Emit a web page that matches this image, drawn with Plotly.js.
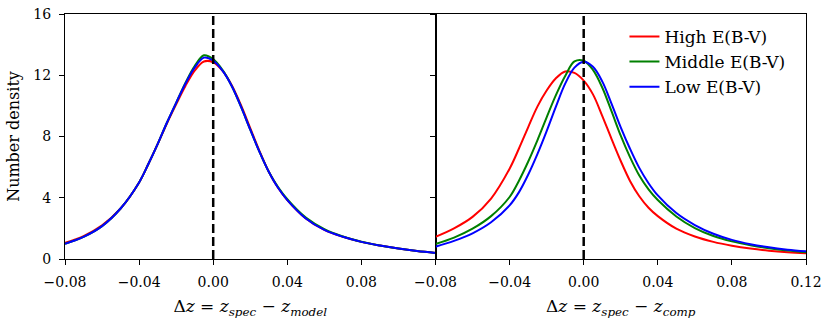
<!DOCTYPE html>
<html>
<head>
<meta charset="utf-8">
<script src="https://cdn.plot.ly/plotly-3.0.1.min.js"></script>
<style>
  html, body { margin: 0; padding: 0; background: #fff; }
  #plot { width: 830px; height: 323px; }
</style>
</head>
<body>
<div id="plot"></div>
<script>
// shared grid of delta z values for both panels
const dz = [-0.08, -0.07, -0.06, -0.05, -0.04, -0.035, -0.03, -0.025, -0.02, -0.015, -0.01, -0.005, 0,
            0.005, 0.01, 0.015, 0.02, 0.025, 0.03, 0.035, 0.04, 0.05, 0.06, 0.07, 0.08, 0.09, 0.10, 0.11, 0.12];

// left panel: z_spec - z_model
const modelHigh = [1.05, 1.5, 2.2, 3.3, 5.0, 6.2, 7.5, 8.85, 10.1, 11.3, 12.3, 12.9, 12.85,
                   12.3, 11.35, 10.05, 8.55, 7.05, 5.7, 4.65, 3.85, 2.65, 1.9, 1.45, 1.12, 0.88, 0.68, 0.52, 0.4];
const modelMid  = [1.0, 1.45, 2.15, 3.3, 5.0, 6.2, 7.5, 8.9, 10.2, 11.5, 12.6, 13.3, 13.05,
                   12.35, 11.3, 9.95, 8.45, 7.0, 5.7, 4.7, 3.9, 2.7, 1.95, 1.47, 1.13, 0.88, 0.68, 0.52, 0.4];
const modelLow  = [1.0, 1.45, 2.15, 3.3, 5.0, 6.2, 7.5, 8.9, 10.2, 11.45, 12.5, 13.15, 12.95,
                   12.3, 11.3, 9.95, 8.45, 7.0, 5.7, 4.65, 3.85, 2.65, 1.9, 1.45, 1.12, 0.88, 0.68, 0.52, 0.4];

// right panel: z_spec - z_comp
const compHigh = [1.45, 2.0, 2.75, 3.95, 5.9, 7.2, 8.6, 9.95, 11.0, 11.8, 12.25, 12.15, 11.65,
                  10.75, 9.35, 7.85, 6.4, 5.1, 4.1, 3.35, 2.8, 1.98, 1.47, 1.12, 0.87, 0.68, 0.54, 0.44, 0.37];
const compMid  = [0.98, 1.4, 1.98, 2.8, 4.05, 5.1, 6.35, 7.75, 9.25, 10.7, 11.95, 12.9, 12.95,
                  12.35, 11.2, 9.65, 8.05, 6.65, 5.45, 4.55, 3.85, 2.78, 2.02, 1.5, 1.15, 0.9, 0.7, 0.55, 0.44];
const compLow  = [0.8, 1.18, 1.68, 2.4, 3.5, 4.35, 5.5, 6.85, 8.35, 9.95, 11.45, 12.5, 12.88,
                  12.55, 11.6, 10.15, 8.6, 7.2, 5.95, 4.95, 4.15, 3.0, 2.22, 1.65, 1.25, 0.97, 0.76, 0.61, 0.5];

const seriesNames = ['High E(B-V)', 'Middle E(B-V)', 'Low E(B-V)'];
const seriesColors = ['#ff0000', '#008000', '#0000ff'];

const xTickVals = [-0.08, -0.04, 0, 0.04, 0.08, 0.12];
const xTickText = ['\u22120.08', '\u22120.04', '0.00', '0.04', '0.08', '0.12'];
const yTickVals = [0, 4, 8, 12, 16];

const font = 'DejaVu Serif';

const data = [];
[modelHigh, modelMid, modelLow].forEach((ys, i) => {
    data.push({
        x: dz, y: ys, xaxis: 'x', yaxis: 'y',
        mode: 'lines', line: { color: seriesColors[i], width: 2, shape: 'spline', smoothing: 1 },
        name: seriesNames[i], showlegend: false, hoverinfo: 'skip'
    });
});
[compHigh, compMid, compLow].forEach((ys, i) => {
    data.push({
        x: dz, y: ys, xaxis: 'x2', yaxis: 'y2',
        mode: 'lines', line: { color: seriesColors[i], width: 2, shape: 'spline', smoothing: 1 },
        name: seriesNames[i], showlegend: true, hoverinfo: 'skip'
    });
});
// dashed zero lines
data.push({ x: [0, 0], y: [0, 16], xaxis: 'x', yaxis: 'y', mode: 'lines',
    line: { color: '#000', width: 2.5, dash: '9px,4px' }, showlegend: false, hoverinfo: 'skip' });
data.push({ x: [0, 0], y: [0, 16], xaxis: 'x2', yaxis: 'y2', mode: 'lines',
    line: { color: '#000', width: 2.5, dash: '9px,4px' }, showlegend: false, hoverinfo: 'skip' });

const axisCommon = {
    showgrid: false, zeroline: false, showline: true, mirror: true,
    linecolor: '#000', linewidth: 1, ticks: 'outside', ticklen: 5, tickwidth: 1, tickcolor: '#000',
    ticklabelstandoff: 5,
    tickfont: { family: font, size: 14, color: '#000' }
};

const xTitleFont = { family: font, size: 17, color: '#000' };

const layout = {
    width: 830, height: 323,
    margin: { l: 65, r: 24, t: 14, b: 64 },
    paper_bgcolor: '#fff', plot_bgcolor: '#fff',
    font: { family: font, color: '#000' },
    xaxis: Object.assign({}, axisCommon, {
        domain: [0, 0.5], range: [-0.08, 0.12], anchor: 'y',
        tickvals: xTickVals.slice(0, 5), ticktext: xTickText.slice(0, 5),
        title: { text: '\u0394<i>z</i> = <i>z</i><sub><i>spec</i></sub> \u2212 <i>z</i><sub><i>model</i></sub>',
                 font: xTitleFont, standoff: 11 }
    }),
    xaxis2: Object.assign({}, axisCommon, {
        domain: [0.5, 1], range: [-0.08, 0.12], anchor: 'y2',
        tickvals: xTickVals, ticktext: xTickText,
        title: { text: '\u0394<i>z</i> = <i>z</i><sub><i>spec</i></sub> \u2212 <i>z</i><sub><i>comp</i></sub>',
                 font: xTitleFont, standoff: 11 }
    }),
    yaxis: Object.assign({}, axisCommon, {
        range: [0, 16], anchor: 'x', tickvals: yTickVals,
        title: { text: 'Number density', font: { family: font, size: 16, color: '#000' }, standoff: 9 }
    }),
    yaxis2: Object.assign({}, axisCommon, {
        range: [0, 16], anchor: 'x2', tickvals: yTickVals, showticklabels: false
    }),
    legend: {
        x: 0.755, y: 0.98, xanchor: 'left', yanchor: 'top',
        bgcolor: 'rgba(0,0,0,0)', borderwidth: 0,
        font: { family: font, size: 17, color: '#000' },
        tracegroupgap: 0
    },
    showlegend: true
};

Plotly.newPlot('plot', data, layout, { staticPlot: true, displayModeBar: false });
</script>
</body>
</html>
